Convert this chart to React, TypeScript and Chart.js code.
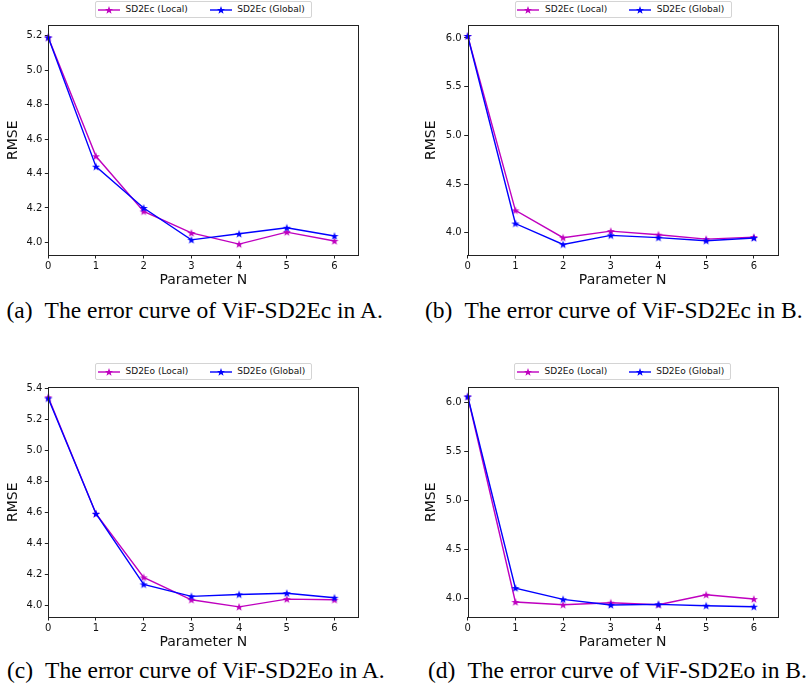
import React, { useEffect, useRef } from 'react';
import { Chart, registerables } from 'chart.js';

Chart.register(...registerables);

// ---------- data ----------
const N_VALUES = [0, 1, 2, 3, 4, 5, 6];
const X_TICKS = [0, 1, 2, 3, 4, 5, 6];

const A_LOCAL = [5.19, 4.5, 4.18, 4.055, 3.99, 4.06, 4.008];
const A_GLOBAL = [5.19, 4.44, 4.2, 4.015, 4.05, 4.085, 4.037];
const B_LOCAL = [6.02, 4.23, 3.95, 4.017, 3.98, 3.935, 3.956];
const B_GLOBAL = [6.02, 4.095, 3.88, 3.973, 3.95, 3.918, 3.946];
const C_LOCAL = [5.34, 4.59, 4.18, 4.036, 3.99, 4.04, 4.036];
const C_GLOBAL = [5.333, 4.59, 4.135, 4.058, 4.07, 4.078, 4.049];
const D_LOCAL = [6.06, 3.963, 3.935, 3.956, 3.935, 4.037, 3.993];
const D_GLOBAL = [6.06, 4.105, 3.99, 3.932, 3.939, 3.925, 3.915];

const Y_TICKS_A = [4.0, 4.2, 4.4, 4.6, 4.8, 5.0, 5.2];
const Y_TICKS_B = [4.0, 4.5, 5.0, 5.5, 6.0];
const Y_TICKS_C = [4.0, 4.2, 4.4, 4.6, 4.8, 5.0, 5.2, 5.4];
const Y_TICKS_D = [4.0, 4.5, 5.0, 5.5, 6.0];

const LABELS_EC = ['SD2Ec (Local)', 'SD2Ec (Global)'];
const LABELS_EO = ['SD2Eo (Local)', 'SD2Eo (Global)'];

const CAPTIONS = [
  ['(a)', 'The error curve of ViF-SD2Ec in A.'],
  ['(b)', 'The error curve of ViF-SD2Ec in B.'],
  ['(c)', 'The error curve of ViF-SD2Eo in A.'],
  ['(d)', 'The error curve of ViF-SD2Eo in B.'],
];

// ---------- styles ----------
const MAGENTA = '#bf00bf';
const BLUE = '#0000ff';
const AXIS = '#222222';
const TEXT = '#111111';
const SANS = '"DejaVu Sans", sans-serif';
const SERIF = '"Liberation Serif", "Times New Roman", serif';

function starPoints(cx: number, cy: number, R: number, r: number): [number, number][] {
  const pts: [number, number][] = [];
  for (let i = 0; i < 10; i++) {
    const ang = -Math.PI / 2 + (i * Math.PI) / 5;
    const rad = i % 2 === 0 ? R : r;
    pts.push([cx + rad * Math.cos(ang), cy + rad * Math.sin(ang)]);
  }
  return pts;
}

function starImage(color: string): HTMLCanvasElement {
  const c = document.createElement('canvas');
  c.width = 10;
  c.height = 10;
  const ctx = c.getContext('2d')!;
  const pts = starPoints(5, 5.3, 4.3, 1.75);
  ctx.beginPath();
  pts.forEach(([x, y], i) => (i ? ctx.lineTo(x, y) : ctx.moveTo(x, y)));
  ctx.closePath();
  ctx.fillStyle = color;
  ctx.fill();
  return c;
}

const framePlugin = {
  id: 'frame',
  afterDraw(chart: any) {
    const { left, top, right, bottom } = chart.chartArea;
    const ctx = chart.ctx;
    ctx.save();
    ctx.strokeStyle = AXIS;
    ctx.lineWidth = 1;
    ctx.strokeRect(Math.round(left) + 0.5, Math.round(top) + 0.5, Math.round(right - left), Math.round(bottom - top));
    ctx.restore();
  },
};

type PanelCfg = {
  left: number; top: number; w: number; h: number;
  padLeft: number; padTop: number; padRight: number;
  yAxisWidth: number; xAxisHeight: number;
  yMin: number; yMax: number; yTicks: number[];
  local: number[]; global: number[]; labels: string[];
};

function Panel({ cfg }: { cfg: PanelCfg }) {
  const ref = useRef<HTMLCanvasElement>(null);
  useEffect(() => {
    const zeroPad = (s: any) => {
      s.paddingLeft = 0; s.paddingRight = 0; s.paddingTop = 0; s.paddingBottom = 0;
    };
    const chart = new Chart(ref.current!, {
      type: 'line',
      data: {
        datasets: [
          {
            label: cfg.labels[0],
            data: N_VALUES.map((n, i) => ({ x: n, y: cfg.local[i] })),
            borderColor: MAGENTA, backgroundColor: MAGENTA, borderWidth: 1.4,
            pointStyle: starImage(MAGENTA) as any, pointRadius: 4, tension: 0,
            clip: false as any, order: 1,
          },
          {
            label: cfg.labels[1],
            data: N_VALUES.map((n, i) => ({ x: n, y: cfg.global[i] })),
            borderColor: BLUE, backgroundColor: BLUE, borderWidth: 1.4,
            pointStyle: starImage(BLUE) as any, pointRadius: 4, tension: 0,
            clip: false as any, order: 0,
          },
        ],
      },
      options: {
        responsive: false,
        animation: false,
        devicePixelRatio: 1,
        layout: { padding: { left: cfg.padLeft, top: cfg.padTop, right: cfg.padRight, bottom: 0 } },
        plugins: { legend: { display: false }, tooltip: { enabled: false } },
        scales: {
          x: {
            type: 'linear', min: 0, max: 6.5,
            afterBuildTicks: (s: any) => { s.ticks = X_TICKS.map((v) => ({ value: v })); },
            afterFit: (s: any) => { s.height = cfg.xAxisHeight; zeroPad(s); },
            ticks: { font: { family: SANS, size: 10 }, color: TEXT, padding: 2, maxRotation: 0, callback: (v: any) => String(v) },
            grid: { display: true, drawOnChartArea: false, drawTicks: true, tickLength: 3.5, color: AXIS },
            border: { display: false },
            title: { display: true, text: 'Parameter N', font: { family: SANS, size: 14, lineHeight: 1.2 }, color: TEXT, padding: { top: 0, bottom: 1 } },
          },
          y: {
            type: 'linear', min: cfg.yMin, max: cfg.yMax,
            afterBuildTicks: (s: any) => { s.ticks = cfg.yTicks.map((v) => ({ value: v })); },
            afterFit: (s: any) => { s.width = cfg.yAxisWidth; zeroPad(s); },
            ticks: { font: { family: SANS, size: 10 }, color: TEXT, padding: 2.5, callback: (v: any) => Number(v).toFixed(1) },
            grid: { display: true, drawOnChartArea: false, drawTicks: true, tickLength: 3.5, color: AXIS },
            border: { display: false },
            title: { display: true, text: 'RMSE', font: { family: SANS, size: 14, lineHeight: 1.2 }, color: TEXT, padding: { top: 5, bottom: 6 } },
          },
        },
      } as any,
      plugins: [framePlugin],
    });
    return () => chart.destroy();
  }, []);
  return (
    <canvas
      ref={ref}
      width={cfg.w}
      height={cfg.h}
      style={{ position: 'absolute', left: cfg.left, top: cfg.top, width: cfg.w, height: cfg.h }}
    />
  );
}

function LegendStar({ color }: { color: string }) {
  const pts = starPoints(11, 5.3, 4.3, 1.75).map((p) => p.join(',')).join(' ');
  return (
    <svg width={22} height={10} style={{ position: 'absolute', top: 3 }}>
      <line x1={0} y1={5} x2={22} y2={5} stroke={color} strokeWidth={1.4} />
      <polygon points={pts} fill={color} />
    </svg>
  );
}

function Legend({ left, top, labels }: { left: number; top: number; labels: string[] }) {
  return (
    <div
      style={{
        position: 'absolute', left, top, width: 217, height: 17,
        border: '1px solid #d4d4d4', borderRadius: 2, boxSizing: 'border-box',
        background: '#fff', fontFamily: SANS, fontSize: 9, color: TEXT,
      }}
    >
      <div style={{ position: 'absolute', left: 1.5, top: 0 }}><LegendStar color={MAGENTA} /></div>
      <span style={{ position: 'absolute', left: 29.5, top: 0, lineHeight: '15px', whiteSpace: 'nowrap' }}>{labels[0]}</span>
      <div style={{ position: 'absolute', left: 113.5, top: 0 }}><LegendStar color={BLUE} /></div>
      <span style={{ position: 'absolute', left: 141.2, top: 0, lineHeight: '15px', whiteSpace: 'nowrap' }}>{labels[1]}</span>
    </div>
  );
}

function Caption({ left, top, parts }: { left: number; top: number; parts: string[] }) {
  return (
    <div style={{ position: 'absolute', left, top, fontFamily: SERIF, fontSize: 23.5, lineHeight: 1, color: '#000', whiteSpace: 'nowrap' }}>
      <span>{parts[0]}</span>
      <span style={{ marginLeft: 12 }}>{parts[1]}</span>
    </div>
  );
}

const PANELS: PanelCfg[] = [
  { left: 0, top: 20, w: 400, h: 270, padLeft: 0, padTop: 4, padRight: 41.7, yAxisWidth: 48.3, xAxisHeight: 35,
    yMin: 3.927, yMax: 5.26, yTicks: Y_TICKS_A, local: A_LOCAL, global: A_GLOBAL, labels: LABELS_EC },
  { left: 400, top: 20, w: 409, h: 270, padLeft: 18, padTop: 4, padRight: 31.3, yAxisWidth: 49.7, xAxisHeight: 35,
    yMin: 3.772, yMax: 6.129, yTicks: Y_TICKS_B, local: B_LOCAL, global: B_GLOBAL, labels: LABELS_EC },
  { left: 0, top: 382, w: 400, h: 270, padLeft: 0, padTop: 4.7, padRight: 41.7, yAxisWidth: 48.3, xAxisHeight: 35,
    yMin: 3.925, yMax: 5.404, yTicks: Y_TICKS_C, local: C_LOCAL, global: C_GLOBAL, labels: LABELS_EO },
  { left: 400, top: 382, w: 409, h: 270, padLeft: 18, padTop: 4.7, padRight: 31.3, yAxisWidth: 49.7, xAxisHeight: 35,
    yMin: 3.81, yMax: 6.153, yTicks: Y_TICKS_D, local: D_LOCAL, global: D_GLOBAL, labels: LABELS_EO },
];

export default function App() {
  return (
    <div style={{ position: 'absolute', left: 0, top: 0, width: 809, height: 687, background: '#fff', overflow: 'hidden' }}>
      {PANELS.map((p, i) => (
        <Panel key={i} cfg={p} />
      ))}
      <Legend left={95} top={0.5} labels={LABELS_EC} />
      <Legend left={514.5} top={0.5} labels={LABELS_EC} />
      <Legend left={95} top={363} labels={LABELS_EO} />
      <Legend left={514} top={363} labels={LABELS_EO} />
      <Caption left={6.5} top={299} parts={CAPTIONS[0]} />
      <Caption left={425} top={299} parts={CAPTIONS[1]} />
      <Caption left={7} top={659} parts={CAPTIONS[2]} />
      <Caption left={428} top={659} parts={CAPTIONS[3]} />
    </div>
  );
}
